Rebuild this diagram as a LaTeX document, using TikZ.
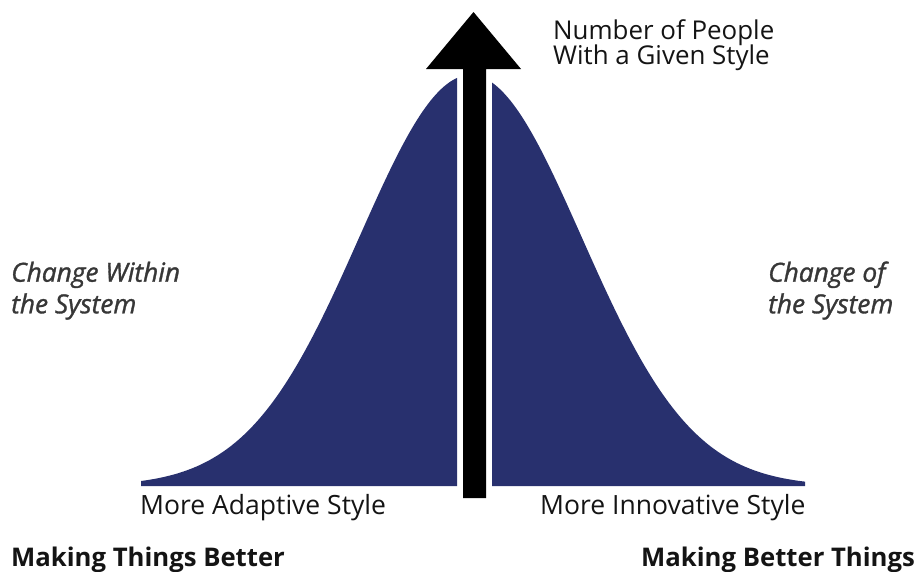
\documentclass[tikz,border=0pt]{standalone}
\usepackage{fontspec}
\setmainfont{Open Sans}
\newfontfamily\notefamily{Open Sans}[FakeBold=1.2]
\definecolor{bellnavy}{RGB}{40,48,110}
\definecolor{inktext}{RGB}{20,20,20}
\definecolor{noteink}{RGB}{55,55,55}
\begin{document}
\begin{tikzpicture}[x=1pt,y=-1pt,
  lbl/.style={inner sep=0pt,anchor=base west,text=inktext,font=\fontsize{26.5}{30}\selectfont},
  axislbl/.style={lbl,font=\fontsize{25.9}{30}\selectfont},
  note/.style={lbl,text=noteink,font=\notefamily\fontsize{26.3}{30}\selectfont\itshape},
  motto/.style={lbl,font=\fontsize{25.7}{30}\selectfont\bfseries},
  bell/.style={fill=bellnavy}]
\useasboundingbox (0,0) rectangle (918,571);
% bell curve: centre 470.5, sigma 111, peak 411 above the base line at 486
\def\bellh#1{486-411*exp(-0.5*((#1-470.5)/111)^2)}
\fill[bell] (141,486) -- plot[domain=141:457,samples=120,smooth] (\x,{\bellh{\x}}) -- (457,486) -- cycle;
\fill[bell] (492,486) -- plot[domain=492:805,samples=120,smooth] (\x,{\bellh{\x}}) -- (805,486) -- cycle;
% vertical axis arrow
\fill[black] (463,498) -- (463,69) -- (426,69) -- (473.5,12) -- (521,69) -- (486,69) -- (486,498) -- cycle;
% labels
\node[axislbl] (ylbl1) at (553,39.5) {Number of People};
\node[axislbl] (ylbl2) at (553,64.5) {With a Given Style};
\node[note] (lnote1) at (11,281.7) {Change Within};
\node[note] (lnote2) at (11,313.3) {the System};
\node[note] (rnote1) at (768,281.7) {Change of};
\node[note] (rnote2) at (768,313.3) {the System};
\node[lbl] (lstyle) at (140,514) {More Adaptive Style};
\node[lbl] (rstyle) at (540,514) {More Innovative Style};
\node[motto] (lmotto) at (11,566) {Making Things Better};
\node[motto] (rmotto) at (641,566) {Making Better Things};
\end{tikzpicture}
\end{document}
